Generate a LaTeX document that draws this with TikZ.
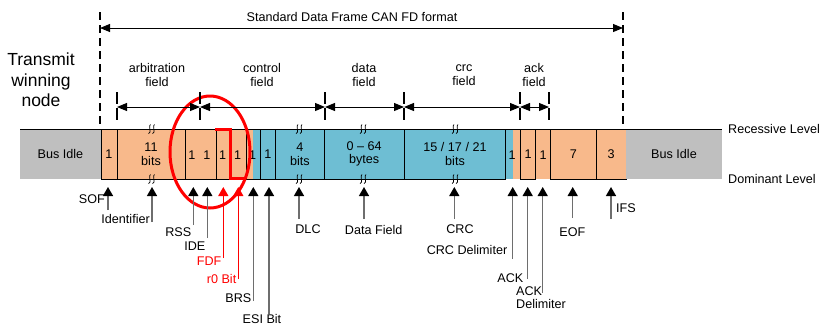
\documentclass[tikz,border=0pt]{standalone}
\usepackage{fontspec}
\setmainfont{Liberation Sans}
\usetikzlibrary{arrows.meta}
\definecolor{org}{HTML}{F8B98B}
\definecolor{blu}{HTML}{6EBED3}
\definecolor{gry}{HTML}{BFBFBF}
\definecolor{shaft}{HTML}{6E6E6E}
\begin{document}
\begin{tikzpicture}[x=1pt,y=-1pt,
  font=\fontsize{12.6}{13.5}\selectfont,
  bx/.style={draw, line width=1pt, minimum height=50pt, inner sep=0pt, outer sep=0pt, anchor=north west, align=center},
  lbl/.style={inner sep=0pt, align=center},
  ptr/.style={draw=shaft, line width=1.4pt, -{Triangle[width=10pt,length=9pt,color=black]}},
  rptr/.style={draw=red, line width=1.4pt, -{Triangle[width=10pt,length=9pt]}},
  dim/.style={line width=1pt, {Triangle[width=8pt,length=10pt]}-{Triangle[width=8pt,length=10pt]}},
  vdash/.style={line width=2.6pt, dash pattern=on 8pt off 5pt},
  tickd/.style={line width=2.4pt, dash pattern=on 12pt off 4pt},
  brk/.pic={
    \draw[line width=0.7pt] (-1,-4.5) .. controls (-3.5,-4.5) and (0.5,4.5) .. (-3,4.5);
    \draw[line width=0.7pt] (3,-4.5) .. controls (0.5,-4.5) and (4.5,4.5) .. (1,4.5);
  }]
\useasboundingbox (0,0) rectangle (821,325);

% ---------- bar ----------
\node[bx, draw=none, fill=gry, minimum width=81pt] (idleL) at (20,129) {Bus Idle};
\node[bx, fill=org, minimum width=16pt] (sof) at (101,129) {1};
\node[bx, fill=org, minimum width=68pt] (ident) at (117,129) {11\\bits};
\node[bx, fill=org, minimum width=30pt] (rssIde) at (185,129) {};
\fill[org] (215,129) rectangle (216.5,179);
\node[bx, fill=org, minimum width=29.5pt] (fdfR0) at (216.5,129) {};
\fill[org] (246,129) rectangle (252.5,179);
\fill[blu] (252.5,129) rectangle (260,179);
\node[bx, minimum width=14pt] (brs) at (246,129) {};
\node[bx, fill=blu, minimum width=15.7pt] (esi) at (260,129) {1};
\node[bx, fill=blu, minimum width=48.3pt] (dlc) at (275.7,129) {4\\bits};
\node[bx, fill=blu, minimum width=80.3pt] (data) at (324,129) {0 – 64\\bytes};
\node[bx, fill=blu, minimum width=101.4pt] (crc) at (404.3,129) {15 / 17 / 21\\bits};
\fill[blu] (505.7,129) rectangle (513,179);
\fill[org] (513,129) rectangle (520.7,179);
\node[bx, fill=org, minimum width=15pt] (ack) at (520.7,129) {1};
\node[bx, draw=none, fill=org, minimum width=15pt] (ackdel) at (535.7,129) {};
\node[bx, fill=org, minimum width=45.3pt] (eof) at (550.7,129) {7};
\node[bx, fill=org, minimum width=30pt] (ifs) at (596,129) {3};
\node[bx, draw=none, fill=gry, minimum width=96pt] (idleR) at (626,129) {Bus Idle};
\draw[line width=1pt] (idleL.north west) -- (idleR.north east);

\node[lbl] (b1) at (192,155) {1};
\node[lbl] (b2) at (207,155) {1};
\node[lbl] (b3) at (222.7,155) {1};
\node[lbl] (b4) at (237.7,155) {1};
\node[lbl] (b5) at (252.5,155) {1};
\node[lbl] (b6) at (512,155) {1};
\node[lbl] (b7) at (543,155) {1};

\foreach \xx in {151.5,299,363,455}{
  \pic at (\xx,129) {brk};
  \pic at (\xx,179) {brk};
}

\node[lbl, anchor=west] (rec) at (728,129) {Recessive Level};
\node[lbl, anchor=west] (dom) at (728,178.5) {Dominant Level};

% ---------- red marks ----------
\draw[red, line width=3pt] (215,129.5) -- (230,129.5) -- (230,178.5) -- (244.5,178.5);
\draw[red, line width=3pt] (210,152) ellipse [x radius=40, y radius=56];

% ---------- top dimensions ----------
\node[lbl, font=\fontsize{17.5}{20.5}\selectfont] (tx) at (41,80) {Transmit\\winning\\node};
\coordinate (dl) at (100,12);
\coordinate (dlb) at (100,124);
\coordinate (dr) at (623,12);
\coordinate (drb) at (623,124);
\draw[vdash] (dl) -- (dlb);
\draw[vdash] (dr) -- (drb);
\coordinate (al) at (100,28);
\coordinate (ar) at (623,28);
\draw[dim] (al) -- (ar);
\node[lbl] (title) at (352,17) {Standard Data Frame CAN FD format};

\foreach \n/\xx in {t1/117,t2/200,t3/325,t4/404,t5/520,t6/549}{
  \coordinate (\n) at (\xx,107);
  \draw[tickd] (\xx,92) -- (\xx,120);
}
\draw[dim] (t1) -- (t2);
\draw[dim] (t2) -- (t3);
\draw[dim] (t3) -- (t4);
\draw[dim] (t4) -- (t5);
\draw[dim] (t5) -- (t6);
\node[lbl] (farb) at (157,75) {arbitration\\field};
\node[lbl] (fctl) at (262,75) {control\\field};
\node[lbl] (fdat) at (364,75) {data\\field};
\node[lbl] (fcrc) at (464,75) {crc\\field};
\node[lbl] (fack) at (534,75) {ack\\field};

% ---------- pointers ----------
\foreach \n/\xx/\yy in {SOF/108/210, ID/152/222, RSS/193.3/225, IDE/207.3/238, FDF/223.3/258, RZ/238.3/279, BRS/253.3/301, ESI/269/314, DLC/299/219, DAT/364/219, CRC/454.3/219, CRD/512.7/259, ACK/527.7/279, ACD/542.7/293, EOF/572.7/218, IFS/611/219}{
  \coordinate (t\n) at (\xx,187);
  \coordinate (e\n) at (\xx,\yy);
}
\foreach \n in {SOF,ID,RSS,IDE,BRS,ESI,DLC,DAT,CRC,CRD,ACK,ACD,EOF,IFS}{
  \draw[ptr] (e\n) -- (t\n);
}
\draw[rptr] (eFDF) -- (tFDF);
\draw[rptr] (eRZ) -- (tRZ);

\node[lbl, anchor=east] (lSOF) at (105,199) {SOF};
\node[lbl, anchor=east] (lID) at (150,219) {Identifier};
\node[lbl, anchor=east] (lRSS) at (191.5,232.5) {RSS};
\node[lbl, anchor=east] (lIDE) at (205.5,246) {IDE};
\node[lbl, anchor=east, text=red] (lFDF) at (221.5,261) {FDF};
\node[lbl, anchor=east, text=red] (lRZ) at (236.5,279) {r0 Bit};
\node[lbl, anchor=east] (lBRS) at (251.5,298) {BRS};
\node[lbl] (lESI) at (262,319) {ESI Bit};
\node[lbl] (lDLC) at (308,229.5) {DLC};
\node[lbl] (lDAT) at (373.7,229.5) {Data Field};
\node[lbl] (lCRC) at (460,229.5) {CRC};
\node[lbl] (lCRD) at (467,249.5) {CRC Delimiter};
\node[lbl] (lACK) at (510.3,278) {ACK};
\node[lbl, anchor=north west, align=left] (lACD) at (516,286) {ACK\\Delimiter};
\node[lbl] (lEOF) at (572.3,232.5) {EOF};
\node[lbl, anchor=west] (lIFS) at (616,208.5) {IFS};
\end{tikzpicture}
\end{document}
